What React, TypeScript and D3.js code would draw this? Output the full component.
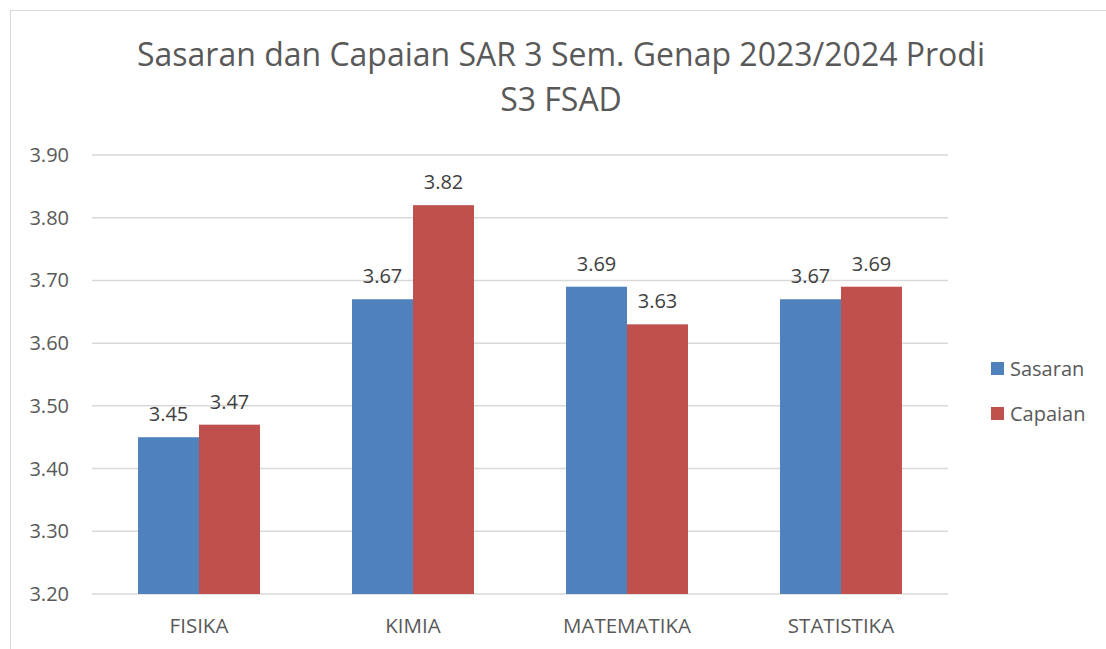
import { useEffect, useRef } from "react";
import * as d3 from "d3";

const categories = ["FISIKA", "KIMIA", "MATEMATIKA", "STATISTIKA"];
const seriesNames = ["Sasaran", "Capaian"];
const sasaran = [3.45, 3.67, 3.69, 3.67];
const capaian = [3.47, 3.82, 3.63, 3.69];
const yTicks = [3.2, 3.3, 3.4, 3.5, 3.6, 3.7, 3.8, 3.9];
const titleLines = ["Sasaran dan Capaian SAR 3 Sem. Genap 2023/2024 Prodi", "S3 FSAD"];

const colors = ["#4F81BD", "#C0504D"];
const FONT = "'Open Sans', 'Noto Sans', sans-serif";
const TEXT = "#595959";

export default function App() {
  const ref = useRef<HTMLDivElement | null>(null);

  useEffect(() => {
    if (!ref.current) return;
    d3.select(ref.current).selectAll("svg").remove();

    const W = 1106;
    const H = 649;
    const svg = d3
      .select(ref.current)
      .append("svg")
      .attr("width", W)
      .attr("height", H)
      .style("position", "absolute")
      .style("left", "0px")
      .style("top", "0px")
      .style("font-family", FONT);

    svg.append("rect").attr("width", W).attr("height", H).attr("fill", "#fff");

    // chart border
    svg
      .append("rect")
      .attr("x", 10.5)
      .attr("y", 10.5)
      .attr("width", W + 20)
      .attr("height", H + 20)
      .attr("fill", "none")
      .attr("stroke", "#D9D9D9")
      .attr("stroke-width", 1);

    const left = 92;
    const right = 948;
    const top = 155;
    const bottom = 594;

    const x = d3.scaleBand<string>().domain(categories).range([left, right]);
    const y = d3.scaleLinear().domain([3.2, 3.9]).range([bottom, top]);
    const groupW = x.bandwidth() * 0.57;
    const inner = d3.scaleBand<string>().domain(seriesNames).range([0, groupW]);
    const groupOffset = (x.bandwidth() - groupW) / 2;

    // title
    svg
      .append("g")
      .selectAll("text")
      .data(titleLines)
      .join("text")
      .attr("x", 561)
      .attr("y", (d, i) => 66 + i * 45)
      .attr("text-anchor", "middle")
      .attr("font-size", 32)
      .attr("fill", TEXT)
      .text((d) => d);

    // gridlines
    svg
      .append("g")
      .selectAll("line")
      .data(yTicks)
      .join("line")
      .attr("x1", left)
      .attr("x2", right)
      .attr("y1", (d) => y(d))
      .attr("y2", (d) => y(d))
      .attr("stroke", "#D9D9D9")
      .attr("stroke-width", 1.5);

    // y labels
    svg
      .append("g")
      .selectAll("text")
      .data(yTicks)
      .join("text")
      .attr("x", 69)
      .attr("y", (d) => y(d))
      .attr("dy", "0.35em")
      .attr("text-anchor", "end")
      .attr("font-size", 20)
      .attr("fill", TEXT)
      .text((d) => d3.format(".2f")(d));

    // x labels
    svg
      .append("g")
      .selectAll("text")
      .data(categories)
      .join("text")
      .attr("x", (d) => (x(d) as number) + x.bandwidth() / 2)
      .attr("y", 633)
      .attr("text-anchor", "middle")
      .attr("font-size", 20.5)
      .attr("fill", TEXT)
      .text((d) => d);

    const series = [sasaran, capaian];
    series.forEach((vals, si) => {
      const g = svg.append("g");
      const bx = (i: number) =>
        (x(categories[i]) as number) + groupOffset + (inner(seriesNames[si]) as number);
      g.selectAll("rect")
        .data(vals)
        .join("rect")
        .attr("x", (d, i) => bx(i))
        .attr("y", (d) => y(d))
        .attr("width", inner.bandwidth())
        .attr("height", (d) => y(3.2) - y(d))
        .attr("fill", colors[si]);
      g.selectAll("text")
        .data(vals)
        .join("text")
        .attr("x", (d, i) => bx(i) + inner.bandwidth() / 2)
        .attr("y", (d) => y(d) - 16)
        .attr("text-anchor", "middle")
        .attr("font-size", 20)
        .attr("fill", "#404040")
        .text((d) => d3.format(".2f")(d));
    });

    // legend
    const legend = svg
      .append("g")
      .selectAll("g")
      .data(seriesNames)
      .join("g")
      .attr("transform", (d, i) => `translate(991,${362 + i * 45})`);
    legend
      .append("rect")
      .attr("width", 13)
      .attr("height", 13)
      .attr("fill", (d, i) => colors[i]);
    legend
      .append("text")
      .attr("x", 19)
      .attr("y", 6.5)
      .attr("dy", "0.35em")
      .attr("font-size", 20)
      .attr("fill", TEXT)
      .text((d) => d);
  }, []);

  return <div ref={ref}></div>;
}
